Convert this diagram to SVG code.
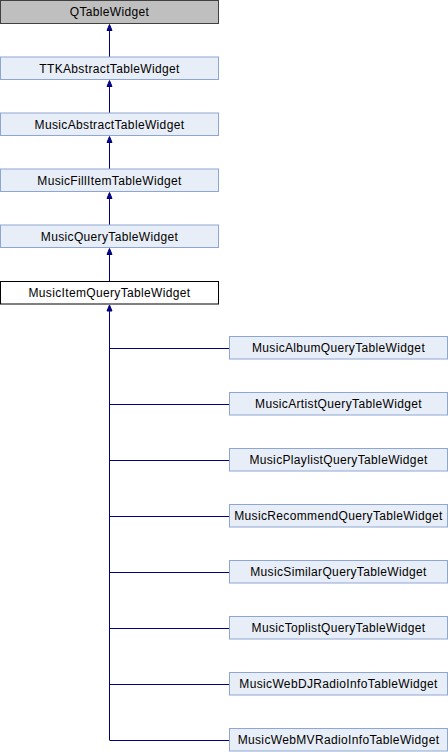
<svg xmlns="http://www.w3.org/2000/svg" width="448" height="752" viewBox="0 0 448 752">
<style>
.n rect{fill:#E8EEF7;stroke:#8EA6D2;stroke-width:1}
.g rect{fill:#BFBFBF;stroke:#404040;stroke-width:1}
.w rect{fill:#FFFFFF;stroke:#000000;stroke-width:1}
text{font-family:"Liberation Sans",Arial,sans-serif;font-size:12px;letter-spacing:0.35px;fill:#000;text-anchor:middle}
.e{stroke:#000080;stroke-width:1;fill:none}
.h{fill:#000080;stroke:#000080;stroke-width:1}
</style>
<defs>
<path id="ah" class="h" d="M0,0 L2.5,6 L-2.5,6 Z"/>
</defs>
<g id="connectors">
<path class="e" d="M109.5,57 V28"/>
<path class="e" d="M109.5,113 V84"/>
<path class="e" d="M109.5,169 V140"/>
<path class="e" d="M109.5,225 V196"/>
<path class="e" d="M109.5,281 V252"/>
<path class="e" d="M109.5,740 V309"/>
<use href="#ah" x="109.5" y="24.5"/>
<use href="#ah" x="109.5" y="80.5"/>
<use href="#ah" x="109.5" y="136.5"/>
<use href="#ah" x="109.5" y="192.5"/>
<use href="#ah" x="109.5" y="248.5"/>
<use href="#ah" x="109.5" y="305"/>
<path class="e" d="M109.5,348.5 H229.5"/>
<path class="e" d="M109.5,404.5 H229.5"/>
<path class="e" d="M109.5,460.5 H229.5"/>
<path class="e" d="M109.5,516.5 H229.5"/>
<path class="e" d="M109.5,572.5 H229.5"/>
<path class="e" d="M109.5,628.5 H229.5"/>
<path class="e" d="M109.5,684.5 H229.5"/>
<path class="e" d="M109.5,740.5 H229.5"/>
</g>
<g id="QTableWidget" class="g"><rect x="0.5" y="0.5" width="218" height="23"/><text x="109.5" y="16">QTableWidget</text></g>
<g id="TTKAbstractTableWidget" class="n"><rect x="0.5" y="57" width="218" height="22.5"/><text x="109.5" y="72.5">TTKAbstractTableWidget</text></g>
<g id="MusicAbstractTableWidget" class="n"><rect x="0.5" y="113" width="218" height="22.5"/><text x="109.5" y="128.5">MusicAbstractTableWidget</text></g>
<g id="MusicFillItemTableWidget" class="n"><rect x="0.5" y="169" width="218" height="22.5"/><text x="109.5" y="184.5">MusicFillItemTableWidget</text></g>
<g id="MusicQueryTableWidget" class="n"><rect x="0.5" y="225" width="218" height="22.5"/><text x="109.5" y="240.5">MusicQueryTableWidget</text></g>
<g id="MusicItemQueryTableWidget" class="w"><rect x="0.5" y="281.5" width="218" height="22.5"/><text x="109.5" y="297">MusicItemQueryTableWidget</text></g>
<g id="MusicAlbumQueryTableWidget" class="n"><rect x="229.5" y="336.5" width="218" height="22.5"/><text x="338.5" y="352">MusicAlbumQueryTableWidget</text></g>
<g id="MusicArtistQueryTableWidget" class="n"><rect x="229.5" y="392.5" width="218" height="22.5"/><text x="338.5" y="408">MusicArtistQueryTableWidget</text></g>
<g id="MusicPlaylistQueryTableWidget" class="n"><rect x="229.5" y="448.5" width="218" height="22.5"/><text x="338.5" y="464">MusicPlaylistQueryTableWidget</text></g>
<g id="MusicRecommendQueryTableWidget" class="n"><rect x="229.5" y="504.5" width="218" height="22.5"/><text x="338.5" y="520">MusicRecommendQueryTableWidget</text></g>
<g id="MusicSimilarQueryTableWidget" class="n"><rect x="229.5" y="560.5" width="218" height="22.5"/><text x="338.5" y="576">MusicSimilarQueryTableWidget</text></g>
<g id="MusicToplistQueryTableWidget" class="n"><rect x="229.5" y="616.5" width="218" height="22.5"/><text x="338.5" y="632">MusicToplistQueryTableWidget</text></g>
<g id="MusicWebDJRadioInfoTableWidget" class="n"><rect x="229.5" y="672.5" width="218" height="22.5"/><text x="338.5" y="688">MusicWebDJRadioInfoTableWidget</text></g>
<g id="MusicWebMVRadioInfoTableWidget" class="n"><rect x="229.5" y="728.5" width="218" height="22.5"/><text x="338.5" y="744">MusicWebMVRadioInfoTableWidget</text></g>
</svg>
